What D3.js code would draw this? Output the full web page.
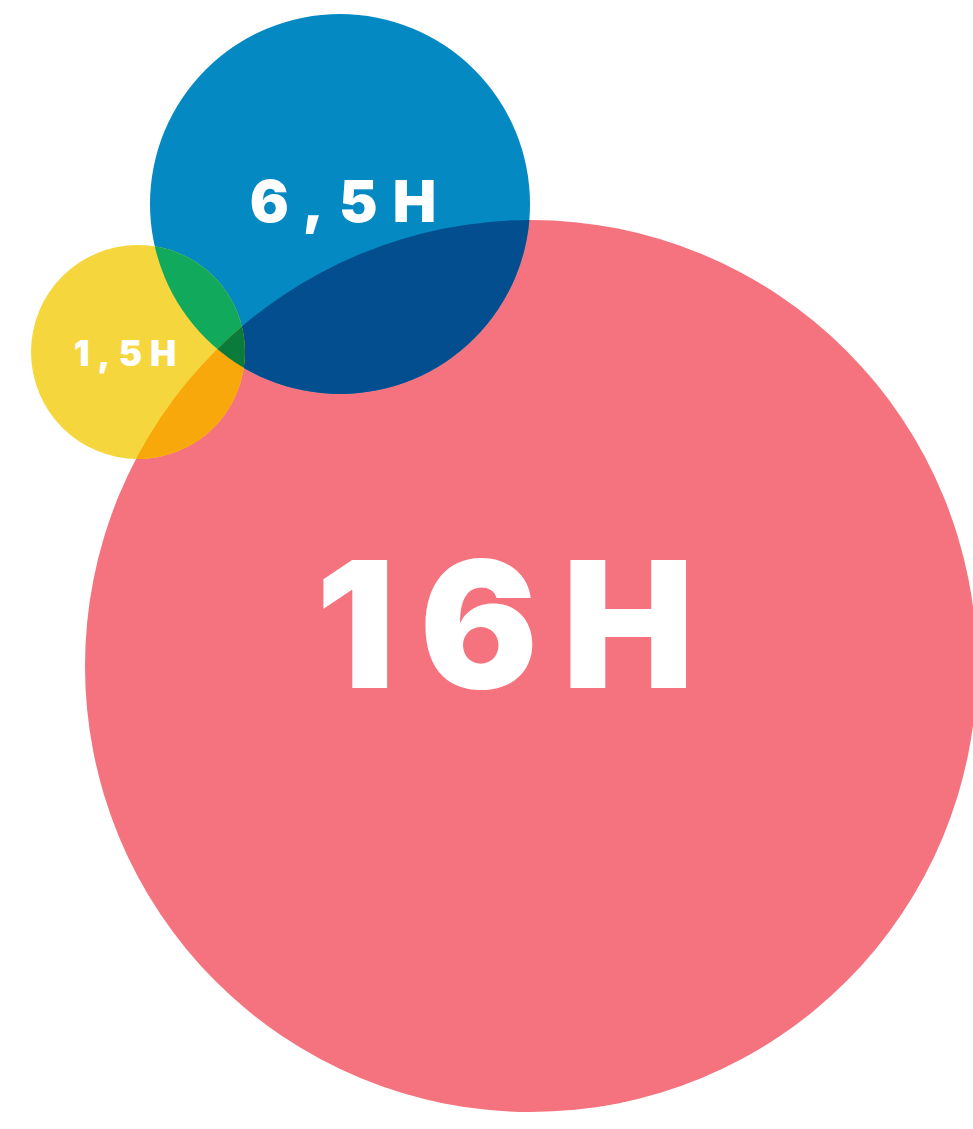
<!DOCTYPE html>
<html>
<head>
<meta charset="utf-8">
<script src="https://cdn.jsdelivr.net/npm/d3@7.9.0/dist/d3.min.js"></script>
<style>
  html, body { margin: 0; padding: 0; background: #fff; overflow: hidden; }
  svg { display: block; }
</style>
</head>
<body>
<div id="chart"></div>
<script>
// data
const labels = ["16H", "6,5H", "1,5H"];
const hours = [16, 6.5, 1.5];
const names = ["red", "blue", "yellow"];

const width = 973, height = 1129;

// layout (centers, sizes, colours) kept apart from the data
const layout = {
  red:    { cx: 531, cy: 666, color: "#f4737e", font: 176, tx: 505, ty: 688, spacing: 24 },
  blue:   { cx: 340, cy: 204, color: "#0589c2", font: 58,  tx: 343, ty: 222, spacing: 15 },
  yellow: { cx: 138, cy: 352, color: "#f5d63d", font: 35,  tx: 125, ty: 366, spacing: 8 }
};
const mix = {
  "blue-red": "#034e8e",
  "yellow-blue": "#11a95b",
  "yellow-red": "#f9a80b",
  "all": "#0b7b3b"
};

// radius scale through the three values
const rScale = d3.scaleLinear()
  .domain([1.5, 6.5, 16])
  .range([107, 190, 446]);

const circles = hours.map((h, i) => ({
  key: names[i],
  label: labels[i],
  value: h,
  r: rScale(h),
  ...layout[names[i]]
}));
const byKey = Object.fromEntries(circles.map(d => [d.key, d]));

const svg = d3.select("#chart")
  .append("svg")
  .attr("width", width)
  .attr("height", height);

const defs = svg.append("defs");
circles.forEach(d => {
  defs.append("clipPath")
    .attr("id", "clip-" + d.key)
    .append("circle")
    .attr("cx", d.cx)
    .attr("cy", d.cy)
    .attr("r", d.r);
});

// base circles
svg.selectAll("circle.base")
  .data(circles)
  .enter()
  .append("circle")
  .attr("class", "base")
  .attr("cx", d => d.cx)
  .attr("cy", d => d.cy)
  .attr("r", d => d.r)
  .style("fill", d => d.color);

// overlaps: draw one circle clipped by another
function overlap(a, b, color, extra) {
  let g = svg.append("g").attr("clip-path", `url(#clip-${b})`);
  if (extra) g = g.append("g").attr("clip-path", `url(#clip-${extra})`);
  const d = byKey[a];
  g.append("circle")
    .attr("cx", d.cx)
    .attr("cy", d.cy)
    .attr("r", d.r)
    .style("fill", color);
}
overlap("blue", "red", mix["blue-red"]);
overlap("yellow", "blue", mix["yellow-blue"]);
overlap("yellow", "red", mix["yellow-red"]);
overlap("yellow", "blue", mix["all"], "red");

// labels
svg.selectAll("text.label")
  .data(circles)
  .enter()
  .append("text")
  .attr("class", "label")
  .attr("x", d => d.tx + d.spacing / 2)
  .attr("y", d => d.ty)
  .attr("text-anchor", "middle")
  .style("font-family", "Inter, 'DejaVu Sans', sans-serif")
  .style("font-weight", 900)
  .style("font-size", d => d.font + "px")
  .style("letter-spacing", d => d.spacing + "px")
  .style("fill", "#fff")
  .text(d => d.label);
</script>
</body>
</html>
